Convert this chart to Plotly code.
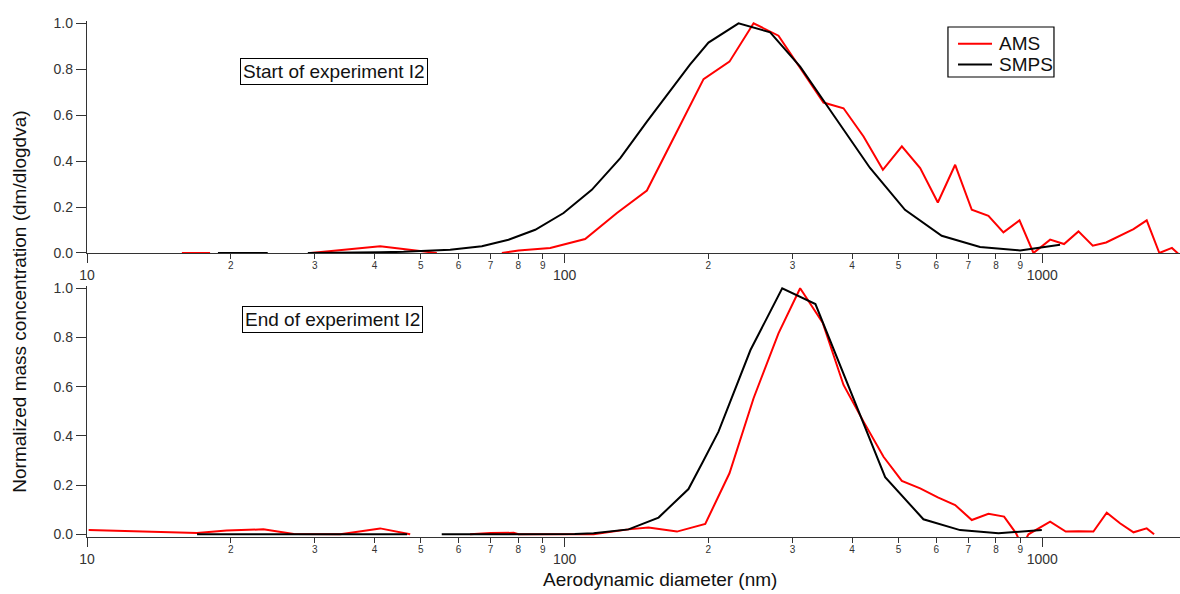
import plotly.graph_objects as go

# ---------------- data (aerodynamic diameter in nm, normalized mass) ----------------
# Start of experiment I2
ams_start_d = [15.8, 18.1, 22.0, 29.4, 41.1, 54.0, 63.0, 73.9, 80.1, 93.3, 110.4, 128.7,
               148.7, 170.4, 195.4, 221.4, 248.7, 280.4, 316.4, 348.4, 383.7, 422.6, 463.9,
               508.3, 555.2, 604.6, 657.3, 712.1, 771.6, 829.5, 896.2, 958.7, 1039, 1111,
               1191, 1276, 1361, 1455, 1553, 1655, 1759, 1869, 1990]
ams_start_v = [0.0, 0.0, None, 0.0, 0.029, 0.0, None, 0.0, 0.011, 0.022, 0.061, 0.174,
               0.272, 0.514, 0.757, 0.833, 1.0, 0.946, 0.783, 0.655, 0.630, 0.507, 0.362,
               0.464, 0.370, 0.220, 0.384, 0.188, 0.162, 0.090, 0.142, 0.0, 0.058, 0.039,
               0.094, 0.032, 0.046, 0.075, 0.104, 0.142, 0.0, 0.022, -0.03]

smps_start_d = [18.8, 21.2, 23.9, 26.5, 29.0, 32.5, 36.5, 41.0, 46.0, 51.5, 57.6, 67.1,
                76.3, 86.8, 99.5, 114.0, 130.8, 148.7, 167.7, 183.0, 200.1, 231.3, 269.4,
                311.3, 368.6, 436.0, 516.0, 616.0, 741.0, 899.0, 1090.0]
smps_start_v = [0.0, 0.0, 0.0, None, 0.0, 0.0, 0.001, 0.003, 0.005, 0.008, 0.014, 0.029,
                0.058, 0.101, 0.174, 0.275, 0.413, 0.572, 0.717, 0.820, 0.916, 1.0, 0.961,
                0.811, 0.590, 0.370, 0.188, 0.075, 0.026, 0.011, 0.036]

# End of experiment I2
ams_end_d = [10.08, 13.0, 17.0, 19.6, 23.4, 27.1, 33.9, 41.1, 47.5, 55.0, 63.4, 69.9, 78.2,
             80.1, 90.0, 100.0, 115.0, 136.0, 149.8, 171.9, 197.0, 221.4, 248.7, 280.4,
             311.3, 347.0, 383.7, 422.6, 465.3, 508.3, 555.2, 604.6, 657.3, 712.1, 771.6,
             832.1, 881.7, 908.0, 935.7, 1039, 1120, 1191, 1280, 1365, 1455, 1553, 1655, 1715]
ams_end_v = [0.017, 0.012, 0.005, 0.015, 0.020, 0.001, 0.0, 0.024, 0.0, None, 0.0, 0.005,
             0.006, 0.0, 0.0, 0.0, 0.0, 0.020, 0.028, 0.011, 0.042, 0.248, 0.553, 0.817,
             1.0, 0.860, 0.607, 0.458, 0.315, 0.217, 0.187, 0.150, 0.119, 0.058, 0.083,
             0.072, 0.004, -0.05, 0.0, 0.051, 0.011, 0.012, 0.011, 0.088, 0.045, 0.008,
             0.024, 0.0]

smps_end_d = [17.0, 20.0, 23.0, 26.5, 30.0, 34.0, 38.5, 43.0, 46.8, 51.0, 55.3, 60.0, 66.0,
              72.0, 80.0, 88.0, 97.0, 105.0, 115.0, 136.1, 157.3, 181.7, 195.4, 210.0,
              245.0, 285.5, 335.1, 396.7, 469.0, 564.0, 673.0, 810.0, 998.0]
smps_end_v = [0.0, 0.0, 0.0, 0.0, 0.0, 0.0, 0.0, 0.0, 0.0, None, 0.0, 0.0, 0.0,
              0.0, 0.0, 0.0, 0.0, 0.001, 0.004, 0.020, 0.068, 0.184, 0.300, 0.417,
              0.749, 1.0, 0.936, 0.580, 0.232, 0.061, 0.017, 0.004, 0.017]

minor_vals = [20, 30, 40, 50, 60, 70, 80, 90, 200, 300, 400, 500, 600, 700, 800, 900]
minor_text = ["2", "3", "4", "5", "6", "7", "8", "9", "2", "3", "4", "5", "6", "7", "8", "9"]
major_vals = [10, 100, 1000]
major_text = ["10", "100", "1000"]
y_ticks = [0.0, 0.2, 0.4, 0.6, 0.8, 1.0]
series_names = ["AMS", "SMPS"]

FONT = "Arial, 'Liberation Sans', sans-serif"
AX = "#333333"
TXT = "#111111"
RED = "#ff0000"
BLK = "#000000"
XR = [1.0, 3.2885]

fig = go.Figure()
fig.add_trace(go.Scatter(x=ams_start_d, y=ams_start_v, mode="lines", name=series_names[0],
                         line=dict(color=RED, width=2), xaxis="x", yaxis="y",
                         connectgaps=False))
fig.add_trace(go.Scatter(x=smps_start_d, y=smps_start_v, mode="lines", name=series_names[1],
                         line=dict(color=BLK, width=2), xaxis="x3", yaxis="y",
                         connectgaps=False))
fig.add_trace(go.Scatter(x=ams_end_d, y=ams_end_v, mode="lines", name=series_names[0],
                         line=dict(color=RED, width=2), xaxis="x2", yaxis="y2",
                         connectgaps=False))
fig.add_trace(go.Scatter(x=smps_end_d, y=smps_end_v, mode="lines", name=series_names[1],
                         line=dict(color=BLK, width=2), xaxis="x4", yaxis="y2",
                         connectgaps=False))

def minor_axis(anchor):
    return dict(type="log", range=XR, anchor=anchor, domain=[0, 1],
                tickmode="array", tickvals=minor_vals, ticktext=minor_text,
                ticks="outside", ticklen=5, tickwidth=1, tickcolor=AX,
                tickfont=dict(size=10, color=AX, family=FONT),
                ticklabelstandoff=-2,
                showline=True, linecolor=AX, linewidth=1.3, mirror=False,
                showgrid=False, zeroline=False, layer="below traces")

def major_axis(over, anchor):
    return dict(type="log", range=XR, overlaying=over, anchor=anchor,
                tickmode="array", tickvals=major_vals, ticktext=major_text,
                ticks="outside", ticklen=9, tickwidth=1.3, tickcolor=AX,
                tickfont=dict(size=14, color=AX, family=FONT),
                ticklabelstandoff=0,
                showline=False, showgrid=False, zeroline=False, layer="below traces")

def y_axis(domain, rng, anchor):
    return dict(domain=domain, range=rng, anchor=anchor,
                tickmode="array", tickvals=y_ticks, tickformat=".1f",
                ticks="outside", ticklen=10, tickwidth=1.3, tickcolor=AX,
                tickfont=dict(size=14, color=AX, family=FONT),
                showline=True, linecolor=AX, linewidth=1.3,
                showgrid=False, zeroline=False, layer="below traces")

fig.update_layout(
    width=1180, height=594,
    margin=dict(l=87, r=0, t=21, b=57),
    paper_bgcolor="white", plot_bgcolor="white",
    font=dict(family=FONT, color=TXT),
    xaxis=minor_axis("y"),
    xaxis3=major_axis("x", "y"),
    xaxis2=minor_axis("y2"),
    xaxis4=major_axis("x2", "y2"),
    yaxis=y_axis([0.5504, 1.0], [0, 1.01], "x"),
    yaxis2=y_axis([0.0, 0.4868], [-0.011, 1.01], "x2"),
    showlegend=False,
)

# legend box (drawn to match the compact legend of the original)
fig.add_shape(type="rect", xref="paper", yref="paper", x0=0.7877, x1=0.8847, y0=0.8915, y1=0.9884,
              line=dict(color="#000000", width=1.2), fillcolor="white", layer="above")
for name, col, yy in [(series_names[0], RED, 0.9560), (series_names[1], BLK, 0.9159)]:
    fig.add_shape(type="line", xref="paper", yref="paper", x0=0.7969, x1=0.8280, y0=yy, y1=yy,
                  line=dict(color=col, width=2), layer="above")
    fig.add_annotation(text=name, xref="paper", yref="paper", x=0.8326, y=yy,
                       xanchor="left", yanchor="middle", showarrow=False,
                       font=dict(size=19, family=FONT, color=TXT))

fig.add_annotation(text="Start of experiment I2", xref="paper", yref="paper",
                   x=0.2264, y=0.9025, xanchor="center", yanchor="middle", showarrow=False,
                   font=dict(size=19, family=FONT, color=TXT),
                   bordercolor="#000000", borderwidth=1, borderpad=2)
fig.add_annotation(text="End of experiment I2", xref="paper", yref="paper",
                   x=0.2246, y=0.4215, xanchor="center", yanchor="middle", showarrow=False,
                   font=dict(size=19, family=FONT, color=TXT),
                   bordercolor="#000000", borderwidth=1, borderpad=2)
fig.add_annotation(text="Normalized mass concentration (dm/dlogdva)", xref="paper", yref="paper",
                   x=-0.0613, y=0.456, xanchor="center", yanchor="middle", showarrow=False,
                   textangle=-90, font=dict(size=19, family=FONT, color=TXT))
fig.add_annotation(text="Aerodynamic diameter (nm)", xref="paper", yref="paper",
                   x=0.5243, y=-0.0833, xanchor="center", yanchor="middle", showarrow=False,
                   font=dict(size=19, family=FONT, color=TXT))

fig.write_html("out.html", config={"displayModeBar": False},
               post_script="document.body.style.margin='0px';document.body.style.overflow='hidden';")
